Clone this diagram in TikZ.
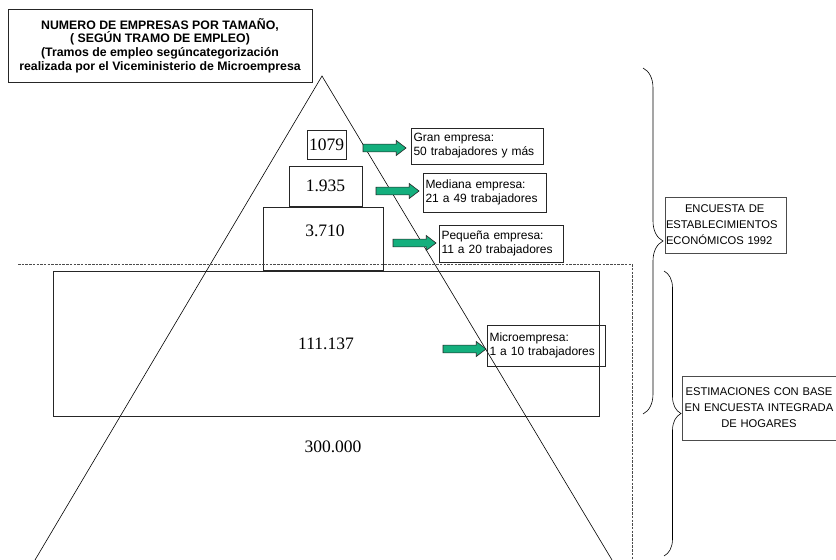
\documentclass[tikz,border=0pt]{standalone}
\usepackage{fontspec}
\setmainfont{Liberation Sans}
\newfontfamily\numfont{Liberation Serif}
\usetikzlibrary{shapes.arrows,decorations.pathreplacing}
\definecolor{arrowgreen}{RGB}{20,175,125}

\begin{document}
\begin{tikzpicture}
 [x=1pt, y=-1pt,
  count box/.style={draw=black!85, line width=0.7pt, inner sep=0pt, font=\numfont\fontsize{17.5}{18}\selectfont},
  count text/.style={inner sep=0pt, font=\numfont\fontsize{17.5}{18}\selectfont},
  size box/.style={draw=black!85, line width=0.6pt, inner sep=2.5pt, align=left, font=\fontsize{12}{14}\selectfont},
  source box/.style={draw=black!70, line width=0.6pt, inner sep=1pt, font=\fontsize{11.2}{16}\selectfont},
  fat arrow/.style={single arrow, draw=black!85, fill=arrowgreen, line width=0.6pt, inner xsep=0pt, inner ysep=3.5pt,
    minimum width=15pt, minimum height=43pt, single arrow head extend=3.5pt, single arrow tip angle=75},
  cut line/.style={draw=black!70, line width=0.6pt, dash pattern=on 2.5pt off 1.2pt}]

\useasboundingbox (0,0) rectangle (836,560);

% titulo
\node[draw=black!85, line width=0.7pt, align=center, inner sep=0pt, minimum width=304pt, minimum height=73pt,
  font=\fontsize{12.3}{13.8}\selectfont\bfseries] (title) at (160,45.5)
  {NUMERO DE EMPRESAS POR TAMAÑO,\\( SEGÚN TRAMO DE EMPLEO)\\(Tramos de empleo segúncategorización\\realizada por el Viceministerio de Microempresa};

% piramide
\draw[line width=0.6pt] (35,560) -- (322,76) -- (612,560);

% cajas con numero de empresas
\node[count box, minimum width=39pt, minimum height=29pt] (gran) at (326.5,144.5) {1079};
\node[count box, minimum width=73pt, minimum height=40pt] (mediana) at (325.5,186) {1.935};
\node[count box, minimum width=120pt, minimum height=63pt] (pequena) at (323,238.5) {};
\node[count text] (pequenanum) at (325,231) {3.710};

\path[cut line] (18,264) -- (632,264) -- (632,560);

\node[count box, line width=0.9pt, minimum width=546pt, minimum height=145pt] (micro) at (326,343.5) {111.137};
\node[count text] (total) at (333,447) {300.000};

% flechas y tramos
\node[fat arrow] (a1) at (382,148) {};
\node[fat arrow] (a2) at (395,191) {};
\node[fat arrow] (a3) at (412,243) {};
\node[fat arrow] (a4) at (462,349) {};

\node[size box, text width=127pt, minimum height=36pt] (t1) at (477,146) {Gran empresa:\\50 trabajadores y más};
\node[size box, text width=118pt, minimum height=39pt] (t2) at (484.5,192.5) {Mediana empresa:\\21 a 49 trabajadores};
\node[size box, text width=119pt, minimum height=37pt] (t3) at (501,243.5) {Pequeña empresa:\\11 a 20 trabajadores};
\node[size box, text width=113pt, minimum height=41pt] (t4) at (546,345.5) {Microempresa:\\1 a 10 trabajadores};

% fuentes
\node[source box, align=left, text width=119pt, minimum height=56pt] (encuesta) at (725.5,225)
  {\hspace*{19pt}ENCUESTA DE\\ESTABLECIMIENTOS\\ECONÓMICOS 1992};
\node[source box, align=center, text width=152pt, minimum height=64pt] (hogares) at (759,408)
  {ESTIMACIONES CON BASE\\EN ENCUESTA INTEGRADA\\DE HOGARES};

\coordinate (b1top) at (643,68);
\coordinate (b1bot) at (643,414);
\coordinate (b2top) at (664,271);
\coordinate (b2bot) at (664,556);
\draw[line width=0.6pt, decorate, decoration={brace, amplitude=20pt}] (b1top) -- (b1bot);
\draw[line width=0.6pt, decorate, decoration={brace, amplitude=17pt}] (b2top) -- (b2bot);

\end{tikzpicture}
\end{document}
